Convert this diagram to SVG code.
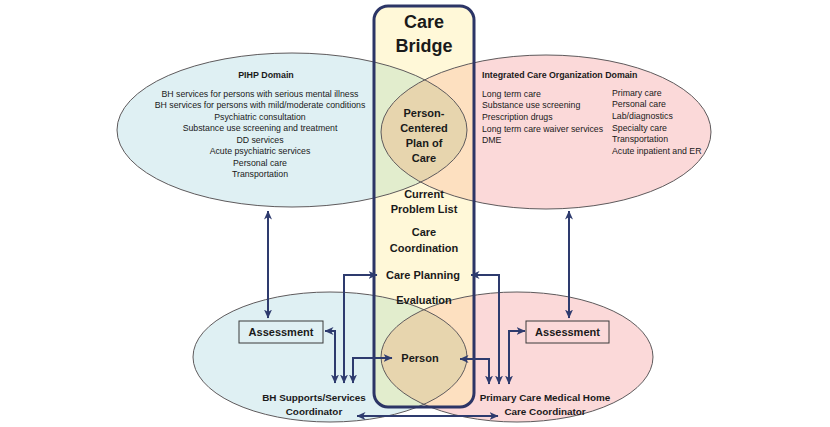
<svg xmlns="http://www.w3.org/2000/svg" width="830" height="427" viewBox="0 0 830 427">
<style>
.t{font-family:"Liberation Sans",Arial,sans-serif;fill:#1a1a1a}
.b{font-weight:bold}
.c{text-anchor:middle}
.s{font-size:8.75px}
.bt{font-size:11px;font-weight:bold;text-anchor:middle}
.eo{fill:none;stroke:#5e5a5c;stroke-width:1}
.cn{fill:none;stroke:#2e3b6e;stroke-width:2}
.box{fill:none;stroke:#3a3a3a;stroke-width:1}
</style>
<defs>
<marker id="ah" markerUnits="userSpaceOnUse" markerWidth="9" markerHeight="9" viewBox="0 0 9 9" refX="8.5" refY="4.5" orient="auto-start-reverse">
<path d="M0,0.5 L9,4.5 L0,8.5 L2.5,4.5 z" fill="#2e3b6e"/>
</marker>
<clipPath id="bridgeClip"><rect x="374" y="6" width="100" height="401" rx="14"/></clipPath>
<clipPath id="tlClip"><ellipse cx="292" cy="130" rx="175" ry="77"/></clipPath>
<clipPath id="blClip"><ellipse cx="330" cy="357" rx="137" ry="65"/></clipPath>
</defs>
<rect width="830" height="427" fill="#ffffff"/>

<!-- domain fills -->
<g id="pihp-domain">
<ellipse cx="292" cy="130" rx="175" ry="77" fill="#dff0f3"/>
</g>
<g id="ico-domain">
<ellipse cx="546" cy="132" rx="165" ry="77" fill="#fbd9d9"/>
</g>
<g id="bh-coordinator-area">
<ellipse cx="330" cy="357" rx="137" ry="65" fill="#dff0f3"/>
</g>
<g id="pcmh-area">
<ellipse cx="517" cy="357" rx="136" ry="65" fill="#fbd9d9"/>
</g>

<!-- bridge with overlaps -->
<g id="care-bridge">
<g clip-path="url(#bridgeClip)">
<rect x="374" y="6" width="100" height="401" fill="#fff8d8"/>
<ellipse cx="292" cy="130" rx="175" ry="77" fill="#e2edcd"/>
<ellipse cx="546" cy="132" rx="165" ry="77" fill="#fde0c0"/>
<ellipse cx="330" cy="357" rx="137" ry="65" fill="#e2edcd"/>
<ellipse cx="517" cy="357" rx="136" ry="65" fill="#fde0c0"/>
</g>
</g>
<g id="plan-of-care-lens">
<ellipse cx="546" cy="132" rx="165" ry="77" fill="#e7d5ae" clip-path="url(#tlClip)"/>
</g>
<g id="person-lens">
<ellipse cx="517" cy="357" rx="136" ry="65" fill="#e7d5ae" clip-path="url(#blClip)"/>
</g>

<!-- outlines -->
<g id="outlines">
<ellipse class="eo" cx="292" cy="130" rx="175" ry="77"/>
<ellipse class="eo" cx="546" cy="132" rx="165" ry="77"/>
<ellipse class="eo" cx="330" cy="357" rx="137" ry="65"/>
<ellipse class="eo" cx="517" cy="357" rx="136" ry="65"/>
</g>
<rect x="374" y="6" width="100" height="401" rx="14" fill="none" stroke="#2c3566" stroke-width="3"/>

<!-- texts -->
<g id="bridge-title">
<text class="t b c" x="424" y="28" font-size="18">Care</text>
<text class="t b c" x="424" y="52" font-size="18">Bridge</text>
</g>
<g id="pihp-text" class="t">
<text class="b c" x="266" y="78" font-size="8.9">PIHP Domain</text>
<g class="s c">
<text x="260" y="96.5">BH services for persons with serious mental illness</text>
<text x="260" y="108">BH services for persons with mild/moderate conditions</text>
<text x="260" y="119.5">Psychiatric consultation</text>
<text x="260" y="131">Substance use screening and treatment</text>
<text x="260" y="142.5">DD services</text>
<text x="260" y="154">Acute psychiatric services</text>
<text x="260" y="165.5">Personal care</text>
<text x="260" y="177">Transportation</text>
</g>
</g>
<g id="ico-text" class="t">
<text class="b" x="482" y="77.5" font-size="8.8">Integrated Care Organization Domain</text>
<g class="s">
<text x="482" y="96.8">Long term care</text>
<text x="482" y="108.3">Substance use screening</text>
<text x="482" y="119.8">Prescription drugs</text>
<text x="482" y="131.8">Long term care waiver services</text>
<text x="482" y="142.8">DME</text>
<text x="612" y="95.8">Primary care</text>
<text x="612" y="107.3">Personal care</text>
<text x="612" y="118.8">Lab/diagnostics</text>
<text x="612" y="130.8">Specialty care</text>
<text x="612" y="142">Transportation</text>
<text x="612" y="153.5">Acute inpatient and ER</text>
</g>
</g>
<g id="plan-of-care" class="t">
<text class="bt" x="424" y="116.5">Person-</text>
<text class="bt" x="424" y="131.8">Centered</text>
<text class="bt" x="424" y="147.1">Plan of</text>
<text class="bt" x="424" y="162.4">Care</text>
</g>
<g id="problem-list" class="t">
<text class="bt" x="424" y="197.5">Current</text>
<text class="bt" x="424" y="213">Problem List</text>
</g>
<g id="care-coordination" class="t">
<text class="bt" x="424" y="236">Care</text>
<text class="bt" x="424" y="251.5">Coordination</text>
</g>
<g id="care-planning" class="t">
<text class="bt" x="423" y="279">Care Planning</text>
</g>
<g id="evaluation" class="t">
<text class="bt" x="424" y="304">Evaluation</text>
</g>
<g id="person" class="t">
<text class="bt" x="420" y="362">Person</text>
</g>
<g id="assessment-left">
<rect class="box" x="239" y="321" width="84" height="22"/>
<text class="t bt" x="281" y="336">Assessment</text>
</g>
<g id="assessment-right">
<rect class="box" x="526" y="321" width="83" height="22"/>
<text class="t bt" x="567.5" y="336">Assessment</text>
</g>
<g id="bh-coordinator" class="t">
<text class="b c" x="314" y="400.5" font-size="9.9">BH Supports/Services</text>
<text class="b c" x="314" y="414.5" font-size="9.9">Coordinator</text>
</g>
<g id="pcmh-coordinator" class="t">
<text class="b c" x="545" y="400.5" font-size="9.9">Primary Care Medical Home</text>
<text class="b c" x="545" y="414.5" font-size="9.9">Care Coordinator</text>
</g>

<!-- connectors -->
<g id="connectors">
<path class="cn" d="M268,211 V318" marker-start="url(#ah)" marker-end="url(#ah)"/>
<path class="cn" d="M569,211 V318" marker-start="url(#ah)" marker-end="url(#ah)"/>
<path class="cn" d="M377,275 H344 V383" marker-start="url(#ah)" marker-end="url(#ah)"/>
<path class="cn" d="M325,331 H335 V383" marker-start="url(#ah)" marker-end="url(#ah)"/>
<path class="cn" d="M392,358 H353 V383" marker-start="url(#ah)" marker-end="url(#ah)"/>
<path class="cn" d="M460,359 H489 V384" marker-start="url(#ah)" marker-end="url(#ah)"/>
<path class="cn" d="M471,275 H499 V384" marker-start="url(#ah)" marker-end="url(#ah)"/>
<path class="cn" d="M525,331 H509 V384" marker-start="url(#ah)" marker-end="url(#ah)"/>
<path class="cn" d="M357,416 H498" marker-start="url(#ah)" marker-end="url(#ah)"/>
</g>
</svg>
